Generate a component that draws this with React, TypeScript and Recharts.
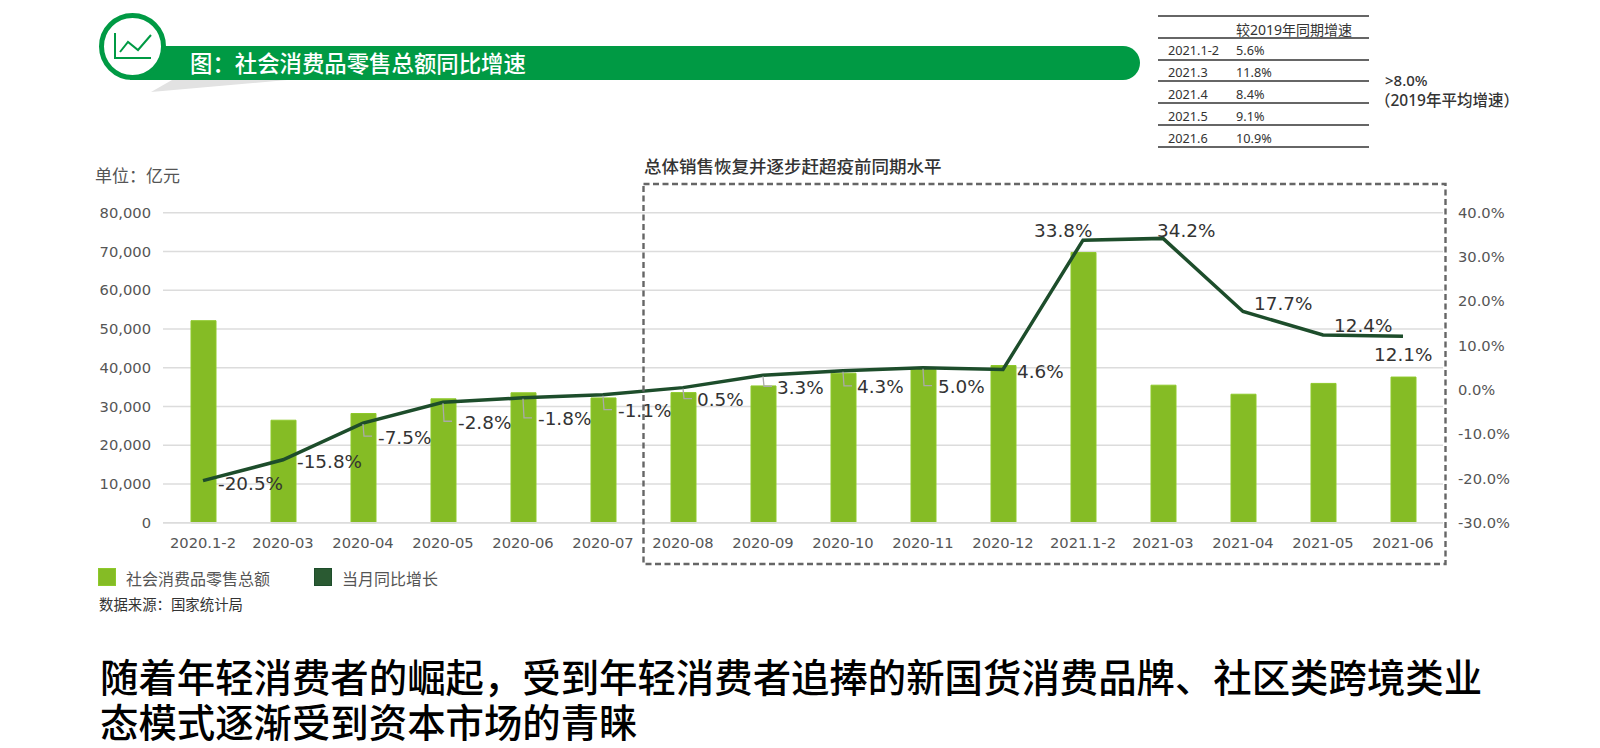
import React from 'react';
import { ComposedChart, Bar, Line, XAxis, YAxis, CartesianGrid, LabelList } from 'recharts';

const months = [
    '2020.1-2', '2020-03', '2020-04', '2020-05', '2020-06', '2020-07', '2020-08', '2020-09',
    '2020-10', '2020-11', '2020-12', '2021.1-2', '2021-03', '2021-04', '2021-05', '2021-06',
];
const retailSales = [
    52130, 26450, 28178, 31973, 33526, 32203, 33571, 35295,
    38576, 39514, 40566, 69737, 35484, 33153, 35945, 37586,
];
const yoyGrowth = [-20.5, -15.8, -7.5, -2.8, -1.8, -1.1, 0.5, 3.3, 4.3, 5.0, 4.6, 33.8, 34.2, 17.7, 12.4, 12.1];
const salesTicks = [0, 10000, 20000, 30000, 40000, 50000, 60000, 70000, 80000];
const growthTicks = [-30, -20, -10, 0, 10, 20, 30, 40];

const tableMonths = ['2021.1-2', '2021.3', '2021.4', '2021.5', '2021.6'];
const tableGrowth = ['5.6%', '11.8%', '8.4%', '9.1%', '10.9%'];

const SALES_NAME = '社会消费品零售总额';
const GROWTH_NAME = '当月同比增长';

const chartData = months.map((month, i) => ({ month, sales: retailSales[i], growth: yoyGrowth[i] }));

// label placement relative to its point: [dx, dy, has leader line]
const labelPlacement: Array<[number, number, boolean]> = [
    [15, 3, false], [14, 2, false], [15, 14, true], [15, 20, true],
    [15, 21, true], [15, 16, true], [14, 12, true], [14, 12, true],
    [14, 16, true], [15, 19, true], [14, 2, false], [-49, -10, false],
    [-6, -8, false], [11, -8, false], [11, -9, false], [-29, 18, false],
];

const CJK = '"Noto Sans CJK SC", sans-serif';
const LATIN = '"DejaVu Sans", sans-serif';
const GREEN = '#009a44';
const TICK_STYLE = { fontFamily: LATIN, fontSize: 14.7, fill: '#555' };

const text = (left: number, centerY: number, size: number, color: string, extra: React.CSSProperties = {}) =>
    ({
        position: 'absolute',
        left,
        top: centerY - 15,
        height: 30,
        lineHeight: '30px',
        fontSize: size,
        color,
        fontFamily: CJK,
        whiteSpace: 'nowrap',
        ...extra,
    }) as React.CSSProperties;

const GrowthLabel = (props: any) => {
    const { x, y, index, value } = props;
    const [dx, dy, leader] = labelPlacement[index];
    return (
        <g>
            {leader && (
                <polyline
                    points={`${x},${y + 1} ${x + 1},${y + dy - 1} ${x + 9},${y + dy - 1}`}
                    fill="none"
                    stroke="#aaa"
                    strokeWidth={1.3}
                />
            )}
            <text
                x={x + dx}
                y={y + dy}
                textAnchor="start"
                dominantBaseline="central"
                fontFamily={LATIN}
                fontSize={18.4}
                fill="#333"
            >
                {`${Number(value).toFixed(1)}%`}
            </text>
        </g>
    );
};

const Header = () => (
    <svg width={1600} height={100} style={{ position: 'absolute', left: 0, top: 0 }}>
        <polygon points="151,92 172,80 287,80" fill="#e2e2e2" />
        <path d="M130,46 H1123 A17,17 0 0 1 1123,80 H130 Z" fill={GREEN} />
        <circle cx={132.5} cy={46.5} r={31} fill="#fff" stroke={GREEN} strokeWidth={5} />
        <polyline points="115,33 115,58 151,58" fill="none" stroke={GREEN} strokeWidth={2} />
        <polyline points="120,52 128,42 138,50 151,35" fill="none" stroke={GREEN} strokeWidth={2} />
    </svg>
);

const SideTable = () => {
    const ruleY = [15.7, 37.7, 59.7, 81, 103, 125, 146.7];
    return (
        <>
            {ruleY.map((y) => (
                <div
                    key={y}
                    style={{ position: 'absolute', left: 1158, top: y - 0.7, width: 211, height: 1.5, background: '#666' }}
                />
            ))}
            <div style={text(1236, 29.5, 14, '#333', { fontFamily: `"Noto Sans", ${CJK}` })}>较2019年同期增速</div>
            {tableMonths.map((m, i) => (
                <React.Fragment key={m}>
                    <div style={text(1168, 50 + i * 22, 12.7, '#333', { fontFamily: '"Noto Sans", sans-serif' })}>{m}</div>
                    <div style={text(1236, 50 + i * 22, 12.7, '#333', { fontFamily: '"Noto Sans", sans-serif' })}>
                        {tableGrowth[i]}
                    </div>
                </React.Fragment>
            ))}
            <div style={text(1385, 80, 15, '#333', { fontFamily: `"Noto Sans", ${CJK}`, fontWeight: 500 })}>&gt;8.0%</div>
            <div style={text(1375, 100, 15.5, '#333', { fontFamily: `"Noto Sans", ${CJK}`, fontWeight: 500 })}>
                （2019年平均增速）
            </div>
        </>
    );
};

export default function App() {
    return (
        <div style={{ position: 'absolute', left: 0, top: 0, width: 1600, height: 748, background: '#fff', overflow: 'hidden' }}>
            <Header />
            <div style={text(190, 62, 22.4, '#fff', { fontWeight: 500 })}>图：社会消费品零售总额同比增速</div>
            <SideTable />
            <div style={text(95, 175, 17, '#555')}>单位：亿元</div>
            <div style={text(644, 166, 17.5, '#333', { fontWeight: 500 })}>总体销售恢复并逐步赶超疫前同期水平</div>

            <div style={{ position: 'absolute', left: 0, top: 0 }}>
                <ComposedChart
                    width={1600}
                    height={748}
                    data={chartData}
                    margin={{ top: 212.7, left: 103, right: 97, bottom: 195.3 }}
                >
                    <CartesianGrid vertical={false} stroke="#dcdcdc" strokeWidth={1.5} yAxisId="sales" />
                    <XAxis
                        dataKey="month"
                        height={30}
                        interval={0}
                        tickLine={false}
                        axisLine={{ stroke: '#dcdcdc', strokeWidth: 1.5 }}
                        tick={TICK_STYLE}
                        tickMargin={9}
                    />
                    <YAxis
                        yAxisId="sales"
                        width={60}
                        domain={[0, 80000]}
                        ticks={salesTicks}
                        axisLine={false}
                        tickLine={false}
                        tick={TICK_STYLE}
                        tickMargin={6}
                        tickFormatter={(v: number) => v.toLocaleString('en-US')}
                    />
                    <YAxis
                        yAxisId="growth"
                        orientation="right"
                        width={60}
                        domain={[-30, 40]}
                        ticks={growthTicks}
                        axisLine={false}
                        tickLine={false}
                        tick={TICK_STYLE}
                        tickMargin={9}
                        tickFormatter={(v: number) => `${v.toFixed(1)}%`}
                    />
                    <Bar
                        yAxisId="sales"
                        dataKey="sales"
                        name={SALES_NAME}
                        barSize={25}
                        fill="#85bc25"
                        stroke="#8ec92b"
                        isAnimationActive={false}
                    />
                    <Line
                        yAxisId="growth"
                        dataKey="growth"
                        name={GROWTH_NAME}
                        type="linear"
                        stroke="#1d4d2b"
                        strokeWidth={3.5}
                        dot={false}
                        activeDot={false}
                        isAnimationActive={false}
                    >
                        <LabelList dataKey="growth" content={<GrowthLabel />} />
                    </Line>
                </ComposedChart>
            </div>

            <svg width={1600} height={748} style={{ position: 'absolute', left: 0, top: 0, pointerEvents: 'none' }}>
                <rect x={643.5} y={184} width={802} height={380} fill="none" stroke="#666" strokeWidth={2.4} strokeDasharray="6 3.5" />
            </svg>

            {/* legend */}
            <div style={{ position: 'absolute', left: 98, top: 568, width: 18, height: 18, background: '#85bc25', boxSizing: 'border-box', border: '1px solid #8ec92b' }} />
            <div style={text(126, 577.5, 16, '#555')}>{SALES_NAME}</div>
            <div style={{ position: 'absolute', left: 314, top: 568, width: 18, height: 18, background: '#2a5a32', boxSizing: 'border-box', border: '1px solid #1d4d2b' }} />
            <div style={text(342, 577.5, 16, '#555')}>{GROWTH_NAME}</div>

            <div style={text(99, 604, 14.4, '#333')}>数据来源：国家统计局</div>

            <div style={text(100, 675, 38.4, '#000', { fontWeight: 500 })}>
                随着年轻消费者的崛起，受到年轻消费者追捧的新国货消费品牌、社区类跨境类业
            </div>
            <div style={text(100, 720, 38.4, '#000', { fontWeight: 500 })}>态模式逐渐受到资本市场的青睐</div>
        </div>
    );
}
